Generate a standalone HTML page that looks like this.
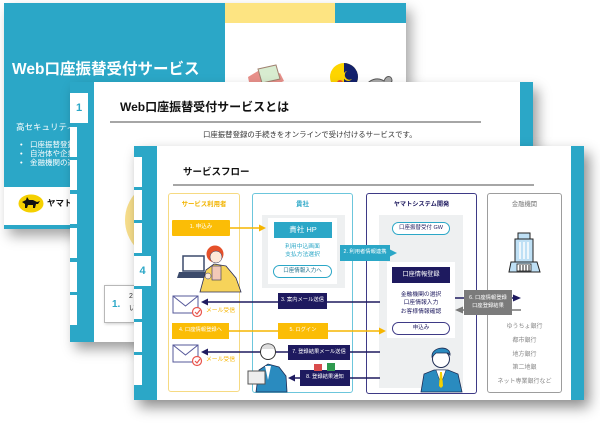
<!DOCTYPE html>
<html><head><meta charset="utf-8">
<style>
*{margin:0;padding:0;box-sizing:border-box}
body{width:600px;height:423px;background:#fff;position:relative;overflow:hidden;font-family:"Liberation Sans","Noto Sans CJK JP",sans-serif}
.a{position:absolute;line-height:1;white-space:nowrap}
.c{position:absolute;display:flex;align-items:center;justify-content:center;white-space:nowrap;line-height:1}
.slide{position:absolute;background:#fff;overflow:hidden}
.blue{background:#2ba7c7}
.tab{position:absolute;left:0;background:#fff}
</style></head><body>

<!-- SLIDE 1 -->
<div class="slide" style="left:4px;top:3px;width:402px;height:226px;box-shadow:5px 7px 12px rgba(0,0,0,.35)">
  <div class="a blue" style="left:0;top:0;width:221px;height:184px"></div>
  <div class="a" style="left:221px;top:0;width:110px;height:20px;background:#fde482"></div>
  <div class="a blue" style="left:331px;top:0;width:71px;height:20px"></div>
  <div class="a blue" style="left:0;top:222px;width:402px;height:4px"></div>
  <div class="a" style="left:8px;top:59px;color:#fff;font-weight:bold;font-size:15.5px">Web口座振替受付サービス</div>
  <div class="a" style="left:12px;top:120px;color:#fff;font-size:8.5px">高セキュリティな受付</div>
  <div class="a" style="left:16px;top:138px;color:#fff;font-size:7.5px">•</div>
  <div class="a" style="left:26px;top:138px;color:#fff;font-size:7.5px">口座振替登録をオンラインで</div>
  <div class="a" style="left:16px;top:147px;color:#fff;font-size:7.5px">•</div>
  <div class="a" style="left:26px;top:147px;color:#fff;font-size:7.5px">自治体や企業に対応</div>
  <div class="a" style="left:16px;top:156px;color:#fff;font-size:7.5px">•</div>
  <div class="a" style="left:26px;top:156px;color:#fff;font-size:7.5px">金融機関の選択</div>
  <svg class="a" style="left:14px;top:191px" width="26" height="19" viewBox="0 0 26 19">
    <ellipse cx="13" cy="9.5" rx="12.5" ry="9" fill="#f5d000"/>
    <path d="M4 8 L8 6 L9 3 L11 6 L15 6 L19 8 L22 7 L20 10 L18 10 L17 14 L15 14 L15 11 L10 11 L9 14 L7 14 L7 10 Z" fill="#111"/>
  </svg>
  <div class="a" style="left:43px;top:196px;color:#111;font-weight:bold;font-size:8.5px">ヤマト運輸</div>
  <svg class="a" style="left:236px;top:60px" width="160" height="25" viewBox="0 0 160 25">
    <path d="M8 14 L18 8 L28 16 L40 10 L44 18 L30 24 L10 24 Z" fill="#e8908a"/>
    <path d="M18 6 L36 2 L40 16 L22 20 Z" fill="#d8ecd0" stroke="#a08070" stroke-width="1"/>
    <circle cx="104" cy="14" r="14" fill="#fed500"/>
    <path d="M104 0 A14 14 0 0 1 104 28 Z" fill="#13216b"/>
    <path d="M107 8 A5 5 0 1 0 112 16 A4 4 0 1 1 107 8 Z" fill="#fed500"/>
    <circle cx="100" cy="20" r="3" fill="#e8502d"/>
    <path d="M126 24 C128 16 138 14 144 18 C146 12 152 12 152 18 C150 22 146 24 140 24 Z" fill="#aaa" stroke="#555" stroke-width="1"/>
  </svg>
</div>

<!-- SLIDE 2 -->
<div class="slide" style="left:70px;top:82px;width:463px;height:260px;box-shadow:5px 7px 12px rgba(0,0,0,.38)">
  <div class="a blue" style="left:0;top:0;width:24px;height:260px"></div>
  <div class="c" style="left:0;top:11px;width:18px;height:30px;background:#fff;color:#2ba7c7;font-weight:bold;font-size:11px">1</div>
  <div class="tab" style="top:45px;width:7px;height:30px"></div>
  <div class="tab" style="top:78px;width:7px;height:30px"></div>
  <div class="tab" style="top:112px;width:7px;height:30px"></div>
  <div class="tab" style="top:146px;width:7px;height:30px"></div>
  <div class="tab" style="top:180px;width:7px;height:30px"></div>
  <div class="tab" style="top:213px;width:7px;height:30px"></div>
  <div class="a blue" style="left:450px;top:0;width:13px;height:260px"></div>
  <div class="a" style="left:50px;top:19px;color:#111;font-weight:bold;font-size:12px">Web口座振替受付サービスとは</div>
  <div class="a" style="left:40px;top:39px;width:371px;height:2px;background:#a6a6a6"></div>
  <div class="a" style="left:133px;top:49px;color:#333;font-size:7.4px">口座振替登録の手続きをオンラインで受け付けるサービスです。</div>
  <div class="a" style="left:55px;top:98px;width:80px;height:80px;border-radius:50%;background:#f8df8c"></div>
  <div class="a" style="left:34px;top:203px;width:60px;height:38px;background:#fff;border:1px solid #b8b8b8;box-shadow:1px 1px 3px rgba(0,0,0,.2)"></div>
  <div class="a" style="left:42px;top:218px;color:#2ba7c7;font-weight:bold;font-size:10px">1.</div>
  <div class="a" style="left:59px;top:211px;color:#333;font-size:7px">2</div>
  <div class="a" style="left:59px;top:223px;color:#333;font-size:7px">い</div>
</div>

<!-- SLIDE 3 -->
<div class="slide" style="left:134px;top:146px;width:450px;height:254px;box-shadow:5px 7px 13px rgba(0,0,0,.45)">
  <div class="a blue" style="left:0;top:0;width:23px;height:254px"></div>
  <div class="tab" style="top:11px;width:8px;height:30px"></div>
  <div class="tab" style="top:44px;width:8px;height:30px"></div>
  <div class="tab" style="top:77px;width:8px;height:30px"></div>
  <div class="c" style="left:0;top:110px;width:17px;height:30px;background:#fff;color:#2ba7c7;font-weight:bold;font-size:11px">4</div>
  <div class="tab" style="top:143px;width:8px;height:30px"></div>
  <div class="tab" style="top:176px;width:8px;height:30px"></div>
  <div class="tab" style="top:209px;width:8px;height:30px"></div>
  <div class="a blue" style="left:437px;top:0;width:13px;height:254px"></div>
  <div class="a" style="left:49px;top:22px;color:#111;font-weight:bold;font-size:9.5px">サービスフロー</div>
  <div class="a" style="left:39px;top:38px;width:361px;height:2px;background:#a6a6a6"></div>
</div>

<!-- COLUMNS -->
<div class="a" style="left:168px;top:193px;width:72px;height:199px;border:1px solid #f6da82;border-radius:3px"></div>
<div class="c" style="left:168px;top:201px;width:72px;height:8px;color:#f2b400;font-weight:bold;font-size:6.4px">サービス利用者</div>

<div class="a" style="left:252px;top:193px;width:101px;height:200px;border:1px solid #6cc6dc;border-radius:3px"></div>
<div class="c" style="left:252px;top:201px;width:101px;height:8px;color:#2ba7c7;font-weight:bold;font-size:6.5px">貴社</div>
<div class="a" style="left:262px;top:215px;width:83px;height:73px;background:#eef0f1"></div>
<div class="a" style="left:268px;top:218px;width:69px;height:66px;background:#fff"></div>
<div class="c" style="left:274px;top:222px;width:58px;height:16px;background:#2ba7c7;color:#fff;font-size:7.5px">貴社 HP</div>
<div class="c" style="left:268px;top:245px;width:69px;height:6px;color:#2ba7c7;font-size:5.8px">利用中込画面</div>
<div class="c" style="left:268px;top:253px;width:69px;height:6px;color:#2ba7c7;font-size:5.8px">支払方法選択</div>
<div class="c" style="left:273px;top:265px;width:59px;height:13px;border:1px solid #2ba7c7;border-radius:7px;background:#fff;color:#1f6f8a;font-size:5.5px">口座情報入力へ</div>

<div class="a" style="left:366px;top:193px;width:111px;height:201px;border:1.5px solid #3e3a86;border-radius:3px"></div>
<div class="c" style="left:366px;top:201px;width:111px;height:8px;color:#1e1a5f;font-weight:bold;font-size:6.2px">ヤマトシステム開発</div>
<div class="a" style="left:379px;top:215px;width:84px;height:173px;background:#eef0f1"></div>
<div class="c" style="left:392px;top:222px;width:58px;height:13px;border:1px solid #2ba7c7;border-radius:7px;background:#fff;color:#1e1a5f;font-size:5.5px">口座振替受付 GW</div>
<div class="a" style="left:387px;top:262px;width:68px;height:76px;background:#fff"></div>
<div class="c" style="left:392px;top:267px;width:58px;height:16px;background:#1e1a5f;color:#fff;font-size:6.2px">口座情報登録</div>
<div class="c" style="left:387px;top:293px;width:68px;height:6px;color:#1e1a5f;font-size:5.8px">金融機関の選択</div>
<div class="c" style="left:387px;top:301px;width:68px;height:6px;color:#1e1a5f;font-size:5.8px">口座情報入力</div>
<div class="c" style="left:387px;top:310px;width:68px;height:6px;color:#1e1a5f;font-size:5.8px">お客様情報確認</div>
<div class="c" style="left:392px;top:322px;width:58px;height:13px;border:1px solid #3e3a86;border-radius:7px;background:#fff;color:#1e1a5f;font-size:5.5px">申込み</div>

<div class="a" style="left:487px;top:193px;width:75px;height:200px;border:1.5px solid #9d9d9d;border-radius:3px"></div>
<div class="c" style="left:487px;top:201px;width:75px;height:8px;color:#777;font-size:6.3px">金融機関</div>
<div class="c" style="left:487px;top:323px;width:75px;height:7px;color:#888;font-size:6px">ゆうちょ銀行</div>
<div class="c" style="left:487px;top:337px;width:75px;height:7px;color:#888;font-size:6px">都市銀行</div>
<div class="c" style="left:487px;top:351px;width:75px;height:7px;color:#888;font-size:6px">地方銀行</div>
<div class="c" style="left:487px;top:364px;width:75px;height:7px;color:#888;font-size:6px">第二地銀</div>
<div class="c" style="left:487px;top:378px;width:75px;height:7px;color:#888;font-size:6px">ネット専業銀行など</div>

<!-- LINES -->
<svg class="a" style="left:0;top:0" width="600" height="423" viewBox="0 0 600 423">
  <g stroke-width="1.5" fill="none">
    <line x1="230" y1="228" x2="261" y2="228" stroke="#f6b500"/>
    <line x1="345" y1="253" x2="392" y2="253" stroke="#2ba7c7"/>
    <line x1="380" y1="302" x2="206" y2="302" stroke="#1e1a5f"/>
    <line x1="229" y1="331" x2="381" y2="331" stroke="#f6b500"/>
    <line x1="380" y1="352" x2="206" y2="352" stroke="#1e1a5f"/>
    <line x1="380" y1="378" x2="292" y2="378" stroke="#1e1a5f"/>
    <line x1="455" y1="298" x2="515" y2="298" stroke="#1e1a5f"/>
    <line x1="521" y1="310" x2="460" y2="310" stroke="#777"/>
  </g>
  <polygon points="266,228 259,224.5 259,231.5" fill="#f6b500"/>
  <polygon points="397,253 390,249.5 390,256.5" fill="#2ba7c7"/>
  <polygon points="201,302 208,298.5 208,305.5" fill="#1e1a5f"/>
  <polygon points="386,331 379,327.5 379,334.5" fill="#f6b500"/>
  <polygon points="201,352 208,348.5 208,355.5" fill="#1e1a5f"/>
  <polygon points="288,378 295,374.5 295,381.5" fill="#1e1a5f"/>
  <polygon points="521,298 513,294.5 513,301.5" fill="#1e1a5f"/>
  <polygon points="455,310 463,306.5 463,313.5" fill="#777"/>
</svg>

<!-- LABEL BOXES -->
<div class="c" style="left:172px;top:220px;width:58px;height:16px;background:#fbbd06;border-radius:1px;color:#fff;font-size:5.5px">1. 申込み</div>
<div class="c" style="left:340px;top:245px;width:50px;height:16px;background:#2ba7c7;color:#fff;font-size:5.3px">2. 利用者情報連携</div>
<div class="c" style="left:278px;top:293px;width:49px;height:16px;background:#1e1a5f;color:#fff;font-size:5.3px">3. 案内メール送信</div>
<div class="c" style="left:172px;top:323px;width:57px;height:16px;background:#fbbd06;color:#fff;font-size:5.3px">4. 口座情報登録へ</div>
<div class="c" style="left:278px;top:323px;width:50px;height:16px;background:#fbbd06;color:#fff;font-size:5.3px">5. ログイン</div>
<div class="c" style="left:464px;top:290px;width:48px;height:25px;background:#7b7b7b;color:#fff;font-size:5.3px;flex-direction:column;line-height:1.5">
  <span>6. 口座情報登録</span><span>口座登録結果</span></div>
<div class="c" style="left:288px;top:345px;width:62px;height:15px;background:#1e1a5f;color:#fff;font-size:5.3px">7. 登録結果メール送信</div>
<div class="c" style="left:300px;top:370px;width:50px;height:16px;background:#1e1a5f;color:#fff;font-size:5.3px">8. 登録結果通知</div>

<div class="a" style="left:206px;top:309px;color:#f6b500;font-size:5.8px">メール受信</div>
<div class="a" style="left:206px;top:358px;color:#f6b500;font-size:5.8px">メール受信</div>

<!-- ILLUSTRATIONS -->
<svg class="a" style="left:0;top:0" width="600" height="423" viewBox="0 0 600 423">
  <!-- envelopes -->
  <g stroke="#55589a" stroke-width="1" fill="#fff">
    <rect x="173" y="296" width="25" height="17"/>
    <polyline points="173,296 185.5,306 198,296" fill="none"/>
    <rect x="173" y="345" width="25" height="17"/>
    <polyline points="173,345 185.5,355 198,345" fill="none"/>
  </g>
  <g stroke="#e9554d" stroke-width="1.2" fill="#fff">
    <circle cx="197" cy="312" r="4.5"/>
    <polyline points="195,312 197,314 200,310" fill="none"/>
    <circle cx="197" cy="361" r="4.5"/>
    <polyline points="195,361 197,363 200,359" fill="none"/>
  </g>
  <!-- woman with laptop -->
  <rect x="183" y="256" width="21" height="15" fill="#fff" stroke="#3b4a6b" stroke-width="1.5"/>
  <polygon points="179,272 208,272 206,278 177,278" fill="#3b4a6b"/>
  <polygon points="200,292 206,270 214,264 226,266 236,278 241,292" fill="#f6d35a" stroke="#2b2f5a" stroke-width=".8"/>
  <rect x="212" y="266" width="9" height="14" fill="#f2c9b8" stroke="#2b2f5a" stroke-width=".6"/>
  <circle cx="215" cy="254" r="8.5" fill="#e5502a"/>
  <circle cx="216" cy="257" r="6" fill="#fde8d8" stroke="#2b2f5a" stroke-width=".5"/>
  <circle cx="208" cy="276" r="3" fill="#fde8d8" stroke="#2b2f5a" stroke-width=".5"/>
  <!-- old man with tablet -->
  <polygon points="256,392 259,370 268,364 279,367 286,376 287,392" fill="#2a8bbf" stroke="#1e2d55" stroke-width=".8"/>
  <polygon points="265,366 268,380 271,366" fill="#fff"/>
  <circle cx="268" cy="352" r="7.5" fill="#fff" stroke="#333" stroke-width="1"/>
  <path d="M261 349 C262 342 274 342 275 349" fill="#ddd" stroke="#333" stroke-width=".8"/>
  <rect x="248" y="371" width="17" height="13" fill="#eee" stroke="#555" stroke-width="1"/>
  <rect x="314" y="364" width="8" height="7" fill="#d94c4c"/>
  <rect x="327" y="363" width="8" height="8" fill="#2f9a4f"/>
  <!-- young man -->
  <polygon points="421,392 424,374 434,370 448,370 458,374 462,392" fill="#2a8bbf" stroke="#1e2d55" stroke-width=".8"/>
  <polygon points="436,370 441,384 446,370" fill="#fff" stroke="#1e2d55" stroke-width=".5"/>
  <polygon points="440,372 442,372 443,386 441,388 439,386" fill="#f5d000"/>
  <circle cx="441" cy="359" r="8.5" fill="#fff" stroke="#1e2d55" stroke-width="1"/>
  <path d="M432 357 C431 346 451 345 450 355 L448 353 L436 353 Z" fill="#2a8bbf" stroke="#1e2d55" stroke-width=".8"/>
  <!-- building -->
  <rect x="518" y="233" width="12" height="6" fill="#bfe0f5" stroke="#222" stroke-width="1"/>
  <rect x="515" y="239" width="18" height="23" fill="#bfe0f5" stroke="#222" stroke-width="1"/>
  <g stroke="#fff" stroke-width="1.5"><line x1="520" y1="242" x2="520" y2="259"/><line x1="524" y1="242" x2="524" y2="259"/><line x1="528" y1="242" x2="528" y2="259"/></g>
  <polygon points="509,272 511,262 537,262 540,272" fill="#bfe0f5" stroke="#222" stroke-width="1"/>
  <rect x="517" y="264" width="14" height="7" fill="#fff" stroke="#222" stroke-width=".8"/>
  <g stroke="#222" stroke-width="1"><line x1="520" y1="265" x2="520" y2="271"/><line x1="523" y1="265" x2="523" y2="271"/><line x1="526" y1="265" x2="526" y2="271"/><line x1="529" y1="265" x2="529" y2="271"/></g>
</svg>

</body></html>
